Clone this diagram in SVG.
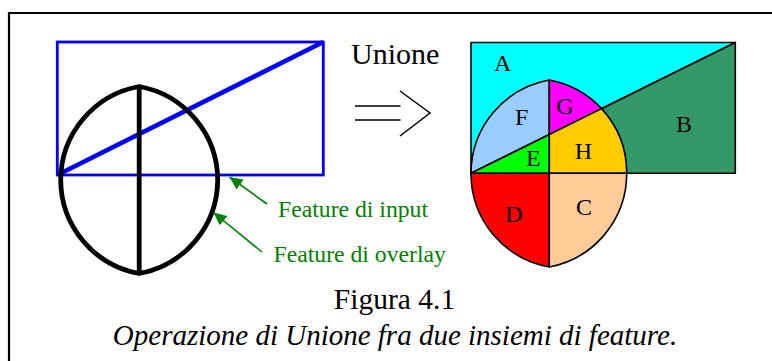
<svg xmlns="http://www.w3.org/2000/svg" width="772" height="361" viewBox="0 0 772 361">
  <defs>
    <style>
      .t { font-family: "Liberation Serif", "Times New Roman", serif; fill: #000; }
      .lbl { font-size: 24px; text-anchor: middle; }
      .gr { font-size: 23.7px; fill: #008000; }
      .reg { stroke: #000; stroke-width: 1.6; stroke-linejoin: round; }
      .blue { fill: none; stroke: #0000ff; }
      .blk { fill: none; stroke: #000; stroke-width: 4.8; }
      .garr { stroke: #008000; stroke-width: 1.6; fill: none; }
    </style>
    <marker id="gh" markerUnits="userSpaceOnUse" markerWidth="14" markerHeight="12" refX="13" refY="6" orient="auto">
      <path d="M0,0 L13,6 L0,12 Z" fill="#008000"/>
    </marker>
  </defs>
  <rect width="772" height="361" fill="#fff"/>
  <!-- frame -->
  <path d="M9,361 V13 H772" fill="none" stroke="#000" stroke-width="2.2"/>

  <!-- left: input feature (blue) -->
  <g id="input-feature">
    <rect x="57.3" y="42" width="266" height="133" class="blue" stroke-width="2.8"/>
    <line x1="57.3" y1="175" x2="323.3" y2="42" class="blue" stroke-width="4.6"/>
  </g>
  <!-- left: overlay feature (black lens) -->
  <g id="overlay-feature">
    <path d="M139.2,86.5 A95.5,95.5 0 0 0 60.7,180 A95.5,95.5 0 0 0 139.2,273.5 A95.5,95.5 0 0 0 217.7,180 A95.5,95.5 0 0 0 139.2,86.5 Z" class="blk" stroke-linejoin="miter"/>
    <line x1="139.2" y1="86.5" x2="139.2" y2="273.5" class="blk"/>
  </g>

  <!-- connectors -->
  <g id="connectors">
    <line x1="267" y1="204" x2="229.5" y2="177" class="garr" marker-end="url(#gh)"/>
    <line x1="262" y1="252" x2="213.5" y2="212.5" class="garr" marker-end="url(#gh)"/>
    <g id="union-arrow" fill="none" stroke="#000" stroke-width="1.5">
      <line x1="355" y1="106" x2="400.5" y2="106"/>
      <line x1="355" y1="120" x2="400.5" y2="120"/>
      <polyline points="400,91 430,113 400,136"/>
    </g>
  </g>

  <g id="label-input"><text class="t gr" x="278" y="217">Feature di input</text></g>
  <g id="label-overlay"><text class="t gr" x="273.5" y="262">Feature di overlay</text></g>
  <g id="label-unione"><text class="t" x="351" y="63.5" font-size="30">Unione</text></g>

  <!-- right: result -->
  <g id="region-A"><path d="M471,42.5 H735.3 L471,173.3 Z" fill="#00ffff" class="reg"/></g>
  <g id="region-B"><path d="M735.3,42.5 V173.3 H471 Z" fill="#339966" class="reg"/></g>
  <g id="region-F"><path d="M471,173.3 A95.1,95.1 0 0 1 549.3,80 V134.55 Z" fill="#99ccff" class="reg"/></g>
  <g id="region-E"><path d="M471,173.3 L549.3,134.55 V173.3 Z" fill="#00ff00" class="reg"/></g>
  <g id="region-G"><path d="M549.3,80 A95.1,95.1 0 0 1 601.6,108.65 L549.3,134.55 Z" fill="#ff00ff" class="reg"/></g>
  <g id="region-H"><path d="M549.3,134.55 L601.6,108.65 A95.1,95.1 0 0 1 626.7,173.3 H549.3 Z" fill="#ffcc00" class="reg"/></g>
  <g id="region-D"><path d="M471,173.3 H549.3 V267 A95.1,95.1 0 0 1 471,173.3 Z" fill="#ff0000" class="reg"/></g>
  <g id="region-C"><path d="M549.3,173.3 H626.7 A95.1,95.1 0 0 1 549.3,267 Z" fill="#ffcc99" class="reg"/></g>

  <g id="region-labels">
    <text class="t lbl" x="502.7" y="71">A</text>
    <text class="t lbl" x="684" y="132">B</text>
    <text class="t lbl" x="584" y="215">C</text>
    <text class="t lbl" x="514" y="222">D</text>
    <text class="t lbl" x="533.3" y="166">E</text>
    <text class="t lbl" x="521.7" y="125">F</text>
    <text class="t lbl" x="565" y="113.5">G</text>
    <text class="t lbl" x="583.3" y="158.5">H</text>
  </g>

  <g id="caption">
    <text class="t" x="394.5" y="308.5" font-size="29.5" text-anchor="middle">Figura 4.1</text>
    <text class="t" x="395" y="345" font-size="29" font-style="italic" text-anchor="middle">Operazione di Unione fra due insiemi di feature.</text>
  </g>
</svg>
